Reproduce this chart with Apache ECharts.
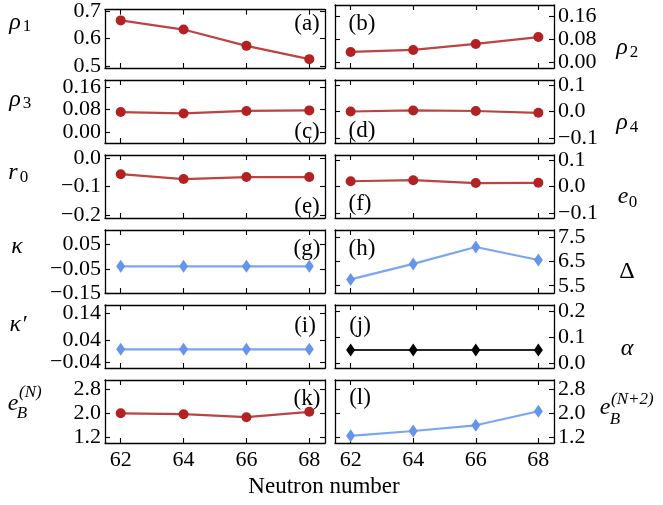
<!DOCTYPE html>
<html>
<head>
<meta charset="utf-8">
<script src="https://cdn.jsdelivr.net/npm/echarts@6/dist/echarts.min.js"></script>
<style>html,body{margin:0;padding:0;background:#fff}#c{width:663px;height:505px}</style>
</head>
<body>
<div id="c"></div>
<script>
// ---------- data ----------
const neutron = [62, 64, 66, 68];
const xTicks = [62, 64, 66, 68];

const rho1 = [0.666, 0.633, 0.574, 0.526];
const rho2 = [0.036, 0.043, 0.064, 0.088];
const rho3 = [0.070, 0.065, 0.074, 0.076];
const rho4 = [0.000, 0.004, 0.002, -0.005];
const r0v = [-0.057, -0.074, -0.067, -0.067];
const e0v = [0.020, 0.024, 0.013, 0.014];
const kappa = [-0.04, -0.04, -0.04, -0.04];
const Delta = [5.76, 6.40, 7.10, 6.56];
const kappaP = [0.008, 0.008, 0.008, 0.008];
const alpha = [0.05, 0.05, 0.05, 0.05];
const eBN = [1.99, 1.96, 1.86, 2.04];
const eBN2 = [1.24, 1.40, 1.59, 2.06];

// tick values and labels
const tRho1 = [0.5, 0.6, 0.7],      lRho1 = ['0.5', '0.6', '0.7'];
const tRho2 = [0, 0.08, 0.16],      lRho2 = ['0.00', '0.08', '0.16'];
const tRho3 = [0, 0.08, 0.16],      lRho3 = ['0.00', '0.08', '0.16'];
const tRho4 = [-0.1, 0, 0.1],       lRho4 = ['\u22120.1', '0.0', '0.1'];
const tR0 = [-0.2, -0.1, 0],        lR0 = ['\u22120.2', '\u22120.1', '0.0'];
const tE0 = [-0.1, 0, 0.1],         lE0 = ['\u22120.1', '0.0', '0.1'];
const tKappa = [-0.15, -0.05, 0.05], lKappa = ['\u22120.15', '\u22120.05', '0.05'];
const tDelta = [5.5, 6.5, 7.5],     lDelta = ['5.5', '6.5', '7.5'];
const tKappaP = [-0.04, 0.04, 0.14], lKappaP = ['\u22120.04', '0.04', '0.14'];
const tAlpha = [0, 0.1, 0.2],       lAlpha = ['0.0', '0.1', '0.2'];
const tEB = [1.2, 2.0, 2.8],        lEB = ['1.2', '2.0', '2.8'];

// axis limits
const limRho1 = [0.494, 0.705];
const limRho2 = [-0.02, 0.2];
const limRho3 = [-0.04, 0.184];
const limRho4 = [-0.12, 0.12];
const limR0 = [-0.21, 0.01];
const limE0 = [-0.12, 0.12];
const limKappa = [-0.15, 0.11];
const limDelta = [5.2, 7.8];
const limKappaP = [-0.06, 0.17];
const limAlpha = [-0.02, 0.225];
const limEB = [1.0, 3.1];
const xLim = [61.5, 68.5];

// ---------- styling / layout ----------
const RED = '#B22222', BLUE = '#6495ED', BLACK = '#000000';
const SERIF = 'Liberation Serif';
const TICK_FS = 22;

const panels = [
  {row: 0, side: 0, data: rho1, lim: limRho1, ticks: tRho1, labels: lRho1, color: RED, sym: 'circle'},
  {row: 0, side: 1, data: rho2, lim: limRho2, ticks: tRho2, labels: lRho2, color: RED, sym: 'circle'},
  {row: 1, side: 0, data: rho3, lim: limRho3, ticks: tRho3, labels: lRho3, color: RED, sym: 'circle'},
  {row: 1, side: 1, data: rho4, lim: limRho4, ticks: tRho4, labels: lRho4, color: RED, sym: 'circle'},
  {row: 2, side: 0, data: r0v, lim: limR0, ticks: tR0, labels: lR0, color: RED, sym: 'circle'},
  {row: 2, side: 1, data: e0v, lim: limE0, ticks: tE0, labels: lE0, color: RED, sym: 'circle'},
  {row: 3, side: 0, data: kappa, lim: limKappa, ticks: tKappa, labels: lKappa, color: BLUE, sym: 'diamond'},
  {row: 3, side: 1, data: Delta, lim: limDelta, ticks: tDelta, labels: lDelta, color: BLUE, sym: 'diamond'},
  {row: 4, side: 0, data: kappaP, lim: limKappaP, ticks: tKappaP, labels: lKappaP, color: BLUE, sym: 'diamond'},
  {row: 4, side: 1, data: alpha, lim: limAlpha, ticks: tAlpha, labels: lAlpha, color: BLACK, sym: 'diamond'},
  {row: 5, side: 0, data: eBN, lim: limEB, ticks: tEB, labels: lEB, color: RED, sym: 'circle'},
  {row: 5, side: 1, data: eBN2, lim: limEB, ticks: tEB, labels: lEB, color: BLUE, sym: 'diamond'}
];

const GRID_LEFT = [105, 335], GRID_W = [220, 219];
const ROW_TOP0 = 5, ROW_STEP = 75, ROW_H = 63;

const grid = [], xAxis = [], yAxis = [], series = [];
const lineAxisStyle = {show: true, onZero: false, lineStyle: {color: '#000', width: 1.3}};
const tickStyle = (vals) => ({show: true, inside: true, length: 5, customValues: vals, lineStyle: {color: '#000', width: 1.1}});

function labelFor(ticks, labels) {
  return function (v) {
    let best = 0, bd = Infinity;
    ticks.forEach((t, i) => { const d = Math.abs(t - v); if (d < bd) { bd = d; best = i; } });
    return labels[best];
  };
}
const labelText = {color: '#000', fontFamily: SERIF, fontSize: TICK_FS, fontWeight: 'normal', fontStyle: 'normal'};

panels.forEach((p, i) => {
  grid.push({left: GRID_LEFT[p.side], width: GRID_W[p.side], top: ROW_TOP0 + p.row * ROW_STEP, height: ROW_H});
  const bottomRow = p.row === 5;
  xAxis.push({
    type: 'value', gridIndex: i, position: 'bottom', min: xLim[0], max: xLim[1],
    axisLine: lineAxisStyle, axisTick: tickStyle(xTicks), splitLine: {show: false},
    axisLabel: Object.assign({show: bottomRow, customValues: xTicks, margin: 6,
      formatter: (v) => String(Math.round(v))}, labelText)
  });
  xAxis.push({
    type: 'value', gridIndex: i, position: 'top', min: xLim[0], max: xLim[1],
    axisLine: lineAxisStyle, axisTick: tickStyle(xTicks), splitLine: {show: false}, axisLabel: {show: false}
  });
  const fmt = labelFor(p.ticks, p.labels);
  yAxis.push({
    type: 'value', gridIndex: i, position: 'left', min: p.lim[0], max: p.lim[1],
    axisLine: lineAxisStyle, axisTick: tickStyle(p.ticks), splitLine: {show: false},
    axisLabel: Object.assign({show: p.side === 0, customValues: p.ticks, formatter: fmt, margin: 4, showMinLabel: true, showMaxLabel: true}, labelText)
  });
  yAxis.push({
    type: 'value', gridIndex: i, position: 'right', min: p.lim[0], max: p.lim[1],
    axisLine: lineAxisStyle, axisTick: tickStyle(p.ticks), splitLine: {show: false},
    axisLabel: Object.assign({show: p.side === 1, customValues: p.ticks, formatter: fmt, margin: 4, showMinLabel: true, showMaxLabel: true}, labelText)
  });
  series.push({
    type: 'line', xAxisIndex: 2 * i, yAxisIndex: 2 * i + p.side,
    data: neutron.map((x, k) => [x, p.data[k]]),
    symbol: p.sym, symbolSize: p.sym === 'circle' ? 10 : [9, 13],
    itemStyle: {color: p.color},
    lineStyle: {color: p.color, width: 2.2, opacity: 0.85},
    clip: false, silent: true
  });
});

// ---------- text ----------
function txt(text, x, y, size, italic, align) {
  return {type: 'text', x: x, y: y, silent: true, z: 100,
    style: {text: text, fill: '#000', font: (italic ? 'italic ' : '') + size + 'px "Liberation Serif"',
      align: align || 'center', verticalAlign: 'middle'}};
}
const MS = 24, SS = 17;
const graphic = [
  // panel letters
  txt('(a)', 307, 24, 23), txt('(b)', 362, 24, 23),
  txt('(c)', 307, 132, 23), txt('(d)', 362, 131, 23),
  txt('(e)', 307, 207, 23), txt('(f)', 360, 204, 23),
  txt('(g)', 307, 249, 23), txt('(h)', 362, 249, 23),
  txt('(i)', 305, 326, 23), txt('(j)', 360, 326, 23),
  txt('(k)', 307, 399, 23), txt('(l)', 360, 398, 23),
  // left axis names
  txt('\u03C1', 15, 23, MS, true), txt('1', 27, 27, SS),
  txt('\u03C1', 15, 100, MS, true), txt('3', 27, 104, SS),
  txt('r', 13, 173, MS, true), txt('0', 24, 178, SS),
  txt('\u03BA', 17, 247, MS, true),
  txt('\u03BA\u2032', 18, 325, MS, true),
  txt('e', 13, 404, MS, true), txt('(N)', 19, 393, SS, true, 'left'), txt('B', 22, 414, SS, true),
  // right axis names
  txt('\u03C1', 622, 48, MS, true), txt('2', 634, 53, SS),
  txt('\u03C1', 622, 123, MS, true), txt('4', 634, 128, SS),
  txt('e', 623, 197, MS, true), txt('0', 633, 203, SS),
  txt('\u0394', 627, 272, MS),
  txt('\u03B1', 627, 349, MS, true),
  txt('e', 605, 408, MS, true), txt('(N+2)', 611, 400, SS, true, 'left'), txt('B', 615, 420, SS, true),
  // x axis title
  txt('Neutron number', 324, 487, 23)
];

const chart = echarts.init(document.getElementById('c'), null, {renderer: 'canvas'});
chart.setOption({animation: false, backgroundColor: '#fff',
  textStyle: {fontFamily: SERIF},
  grid, xAxis, yAxis, series, graphic});
</script>
</body>
</html>
